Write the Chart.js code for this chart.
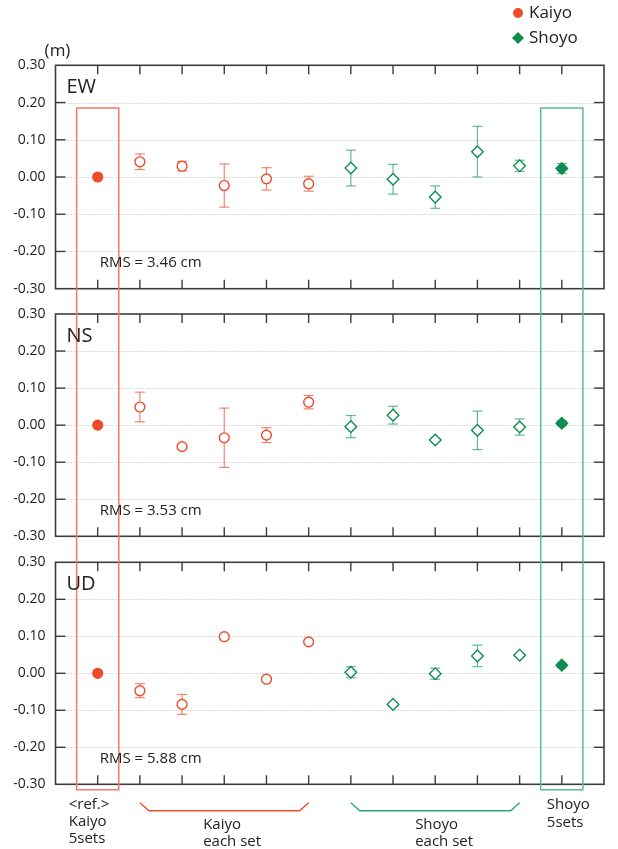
<!DOCTYPE html>
<html>
<head>
<meta charset="utf-8">
<script src="https://cdn.jsdelivr.net/npm/chart.js@4/dist/chart.umd.min.js"></script>
<style>
  html, body { margin: 0; padding: 0; background: #fff; }
  #wrap { position: relative; width: 618px; height: 849px; overflow: hidden; }
  canvas { position: absolute; left: 0; }
</style>
</head>
<body>
<div id="wrap">
  <canvas id="cEW" width="618" height="301" style="top:0px"></canvas>
  <canvas id="cNS" width="618" height="248" style="top:301px"></canvas>
  <canvas id="cUD" width="618" height="300" style="top:549px"></canvas>
</div>
<script>
// Solution sets: index 0 = Kaiyo 5-set reference, 1-5 = Kaiyo single sets,
// 6-10 = Shoyo single sets, 11 = Shoyo 5-set solution.
const setNames = ['Kaiyo 5sets', 'Kaiyo 1', 'Kaiyo 2', 'Kaiyo 3', 'Kaiyo 4', 'Kaiyo 5',
                  'Shoyo 1', 'Shoyo 2', 'Shoyo 3', 'Shoyo 4', 'Shoyo 5', 'Shoyo 5sets'];
const kaiyoCount = 6;

// Position differences (m) and their error bars
const ewValues = [0.000, 0.041, 0.029, -0.023, -0.005, -0.018, 0.024, -0.006, -0.054, 0.068, 0.030, 0.023];
const ewErrors = [0.000, 0.021, 0.013, 0.058, 0.030, 0.020, 0.048, 0.040, 0.030, 0.068, 0.015, 0.013];
const nsValues = [0.000, 0.049, -0.058, -0.034, -0.027, 0.062, -0.004, 0.027, -0.040, -0.014, -0.005, 0.005];
const nsErrors = [0.000, 0.040, 0.004, 0.080, 0.020, 0.018, 0.030, 0.024, 0.004, 0.052, 0.022, 0.007];
const udValues = [0.000, -0.047, -0.084, 0.099, -0.016, 0.085, 0.003, -0.084, -0.001, 0.047, 0.049, 0.022];
const udErrors = [0.000, 0.019, 0.027, 0.004, 0.004, 0.004, 0.015, 0.005, 0.015, 0.029, 0.004, 0.006];

const panelNames = ['EW', 'NS', 'UD'];
const rmsCm = ['3.46', '3.53', '5.88'];
const yMin = -0.30, yMax = 0.30, yStep = 0.10;

const RED = '#ee4b2b', RED_ERR = 'rgba(239,84,56,0.72)', RED_BOX = '#f2786a';
const GREEN = '#0d8e4f', GREEN_ERR = 'rgba(40,165,110,0.75)', GREEN_BOX = '#5bbb93';
const INK = '#222', FRAME = '#3c3c3c';
const FONT = "'Open Sans', 'Noto Sans', sans-serif";

function strokeLine(ctx, x1, y1, x2, y2) {
  ctx.beginPath(); ctx.moveTo(x1, y1); ctx.lineTo(x2, y2); ctx.stroke();
}

const panelDecor = {
  id: 'panelDecor',
  beforeDatasetsDraw(chart, args, o) {
    const { ctx, chartArea: a, scales: { x, y } } = chart;
    // dotted horizontal grid
    ctx.save();
    ctx.strokeStyle = '#b8b8b8';
    ctx.lineWidth = 1;
    ctx.setLineDash([1, 2]);
    y.ticks.forEach(t => {
      if (t.value <= yMin + 1e-9 || t.value >= yMax - 1e-9) return;
      const py = Math.round(y.getPixelForValue(t.value)) + 0.5;
      strokeLine(ctx, a.left, py, a.right, py);
    });
    ctx.restore();
    // error bars
    ctx.save();
    ctx.lineWidth = 1.2;
    chart.data.datasets.forEach(ds => {
      ctx.strokeStyle = ds.errorColor;
      ds.data.forEach((pt, i) => {
        const e = ds.errors[i];
        if (!e) return;
        const px = x.getPixelForValue(pt.x);
        const t = y.getPixelForValue(pt.y + e);
        const b = y.getPixelForValue(pt.y - e);
        strokeLine(ctx, px, t, px, b);
        strokeLine(ctx, px - 5, t, px + 5, t);
        strokeLine(ctx, px - 5, b, px + 5, b);
      });
    });
    ctx.restore();
  },
  afterDatasetsDraw(chart, args, o) {
    const { ctx, chartArea: a, scales: { x, y } } = chart;
    const H = chart.height;
    ctx.save();
    // frame
    ctx.strokeStyle = FRAME;
    ctx.lineWidth = 1.6;
    ctx.strokeRect(a.left, a.top, a.right - a.left, a.bottom - a.top);
    // inward tick marks
    ctx.lineWidth = 1.4;
    for (let i = 0; i < setNames.length; i++) {
      const px = x.getPixelForValue(i);
      strokeLine(ctx, px, a.top, px, a.top + 9);
      strokeLine(ctx, px, a.bottom, px, a.bottom - 9);
    }
    y.ticks.forEach(t => {
      if (t.value <= yMin + 1e-9 || t.value >= yMax - 1e-9) return;
      const py = y.getPixelForValue(t.value);
      strokeLine(ctx, a.left, py, a.left + 10, py);
      strokeLine(ctx, a.right, py, a.right - 10, py);
    });
    // boxes marking the 5-set solutions
    ctx.lineWidth = 1.5;
    o.boxes.forEach(bx => {
      const l = x.getPixelForValue(bx.from), r = x.getPixelForValue(bx.to);
      const t = o.boxTop == null ? -2 : y.getPixelForValue(o.boxTop);
      const b = o.boxBottom == null ? H + 2 : y.getPixelForValue(o.boxBottom);
      ctx.strokeStyle = bx.color;
      ctx.beginPath();
      if (o.boxTop != null) { ctx.moveTo(l, b); ctx.lineTo(l, t); ctx.lineTo(r, t); ctx.lineTo(r, b); }
      else if (o.boxBottom != null) { ctx.moveTo(l, t); ctx.lineTo(l, b); ctx.lineTo(r, b); ctx.lineTo(r, t); }
      else { ctx.moveTo(l, t); ctx.lineTo(l, b); ctx.moveTo(r, t); ctx.lineTo(r, b); }
      ctx.stroke();
    });
    // panel name and RMS
    ctx.fillStyle = INK;
    ctx.textBaseline = 'alphabetic';
    ctx.textAlign = 'left';
    ctx.font = '20px ' + FONT;
    ctx.fillText(o.name, a.left + 11, a.top + 27.5);
    ctx.font = '15px ' + FONT;
    ctx.fillText('RMS = ' + o.rms + ' cm', x.getPixelForValue(0) + 2, a.bottom - 21.5);

    if (o.header) {
      ctx.font = '17px ' + FONT;
      ctx.textAlign = 'center';
      ctx.fillText('(m)', a.left + 2, a.top - 9);
      // legend
      ctx.textAlign = 'left';
      ctx.textBaseline = 'middle';
      ctx.font = '17px ' + FONT;
      ctx.fillStyle = RED;
      ctx.beginPath(); ctx.arc(518, 13, 5, 0, Math.PI * 2); ctx.fill();
      ctx.fillStyle = GREEN;
      ctx.beginPath(); ctx.moveTo(518, 32); ctx.lineTo(524, 38); ctx.lineTo(518, 44); ctx.lineTo(512, 38); ctx.closePath(); ctx.fill();
      ctx.fillStyle = INK;
      ctx.fillText('Kaiyo', 529, 13);
      ctx.fillText('Shoyo', 529, 38);
    }

    if (o.footer) {
      const yb = a.bottom;
      // brackets under the single-set groups
      ctx.lineWidth = 1.4;
      [[1, 5, RED], [6, 10, '#2aa86f']].forEach(([f, t, c]) => {
        const l = x.getPixelForValue(f), r = x.getPixelForValue(t);
        ctx.strokeStyle = c;
        ctx.beginPath();
        ctx.moveTo(l, yb + 18.5); ctx.lineTo(l + 9, yb + 26.5);
        ctx.lineTo(r - 9, yb + 26.5); ctx.lineTo(r, yb + 18.5);
        ctx.stroke();
      });
      ctx.fillStyle = INK;
      ctx.font = '15px ' + FONT;
      ctx.textAlign = 'left';
      ctx.textBaseline = 'middle';
      const x0 = x.getPixelForValue(0) - 29;
      ctx.fillText('<ref.>', x0, yb + 20.7);
      ctx.fillText('Kaiyo', x0, yb + 37.7);
      ctx.fillText('5sets', x0, yb + 54.7);
      const xk = x.getPixelForValue(2.5);
      ctx.fillText('Kaiyo', xk, yb + 40.7);
      ctx.fillText('each set', xk, yb + 57.5);
      const xs = x.getPixelForValue(7.5) + 1;
      ctx.fillText('Shoyo', xs, yb + 40.7);
      ctx.fillText('each set', xs, yb + 57.5);
      const x11 = x.getPixelForValue(11) - 15;
      ctx.fillText('Shoyo', x11, yb + 20.7);
      ctx.fillText('5sets', x11, yb + 38.5);
    }
    ctx.restore();
  }
};

function makePanel(id, k, values, errors, padding, extra) {
  const pts = values.map((v, i) => ({ x: i, y: v }));
  return new Chart(document.getElementById(id), {
    type: 'scatter',
    data: {
      datasets: [
        {
          label: 'Kaiyo',
          data: pts.slice(0, kaiyoCount),
          errors: errors.slice(0, kaiyoCount),
          errorColor: RED_ERR,
          pointStyle: 'circle',
          pointRadius: 4.9,
          pointBorderWidth: 1.4,
          pointBorderColor: RED,
          pointBackgroundColor: c => c.dataIndex === 0 ? RED : '#fff'
        },
        {
          label: 'Shoyo',
          data: pts.slice(kaiyoCount),
          errors: errors.slice(kaiyoCount),
          errorColor: GREEN_ERR,
          pointStyle: 'rectRot',
          pointRadius: 5.8,
          pointBorderWidth: 1.4,
          pointBorderColor: GREEN,
          pointBackgroundColor: c => c.dataIndex === setNames.length - kaiyoCount - 1 ? GREEN : '#fff'
        }
      ]
    },
    options: {
      responsive: false,
      animation: false,
      devicePixelRatio: 1,
      events: [],
      layout: { padding },
      plugins: {
        legend: { display: false },
        tooltip: { enabled: false },
        panelDecor: Object.assign({
          name: panelNames[k],
          rms: rmsCm[k],
          boxes: [
            { from: -0.5, to: 0.5, color: RED_BOX },
            { from: 10.5, to: 11.5, color: GREEN_BOX }
          ]
        }, extra)
      },
      scales: {
        x: { type: 'linear', min: -1, max: 12, display: false },
        y: {
          min: yMin, max: yMax,
          grid: { display: false, drawTicks: false },
          border: { display: false },
          ticks: {
            stepSize: yStep,
            padding: 10,
            color: INK,
            font: { family: FONT, size: 14 },
            callback: v => (Math.abs(v) < 1e-9 ? 0 : v).toFixed(2)
          },
          afterFit: s => { s.width = 55.5; s.paddingTop = 0; s.paddingBottom = 0; }
        }
      }
    },
    plugins: [panelDecor]
  });
}

makePanel('cEW', 0, ewValues, ewErrors, { left: 0, right: 14, top: 65.3, bottom: 12.3 },
  { boxTop: 0.185, boxBottom: null, header: true });
makePanel('cNS', 1, nsValues, nsErrors, { left: 0, right: 14, top: 13, bottom: 12.7 },
  { boxTop: null, boxBottom: null });
makePanel('cUD', 2, udValues, udErrors, { left: 0, right: 14, top: 13.3, bottom: 64.7 },
  { boxTop: null, boxBottom: -0.315, footer: true });
</script>
</body>
</html>
